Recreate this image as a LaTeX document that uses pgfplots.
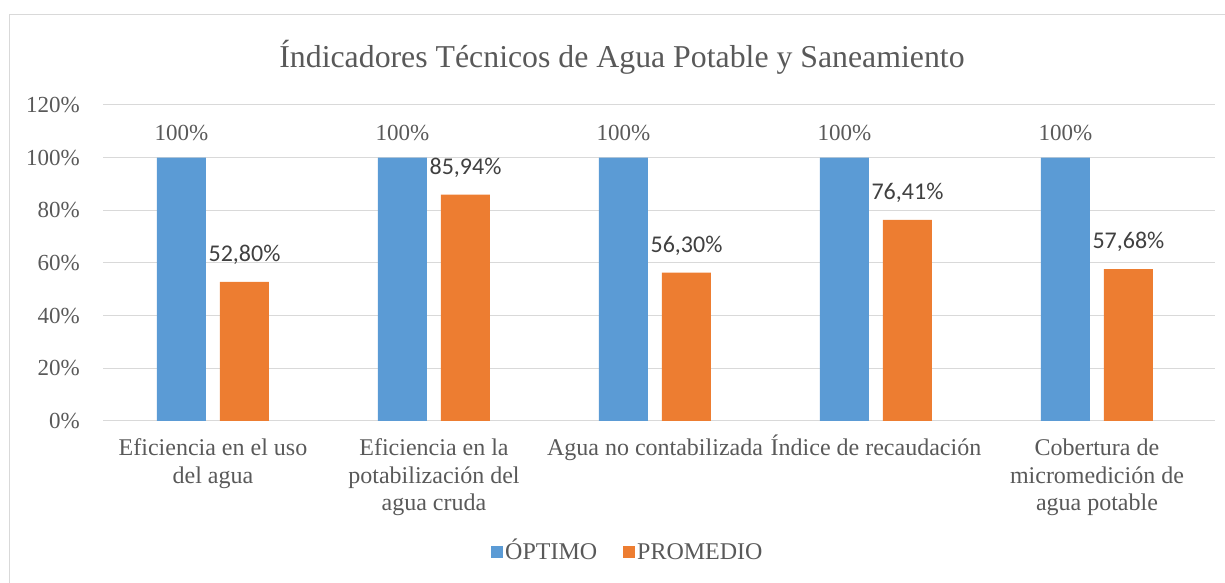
\documentclass[border=0pt]{standalone}
\usepackage{pgfplots}
\pgfplotsset{compat=1.18}
\usepackage{fontspec}
\setmainfont{Liberation Serif}
\newfontfamily\calibri{Carlito}

\definecolor{optimo}{HTML}{5B9BD5}
\definecolor{promedio}{HTML}{ED7D31}
\definecolor{txt}{HTML}{595959}
\definecolor{lbl}{HTML}{404040}
\definecolor{gridc}{HTML}{D9D9D9}

\begin{document}
\begin{tikzpicture}[x=1pt,y=1pt]
\path[use as bounding box] (0,0) rectangle (1225,583);
% chart frame (top and left edges visible)
\draw[gridc, line width=1pt] (9,-2) -- (9,568) -- (1227,568);
% title
\node[txt, font=\fontsize{31.8}{36}\selectfont] at (622,526) {Índicadores Técnicos de Agua Potable y Saneamiento};

\begin{axis}[
    at={(103pt,162pt)}, anchor=south west,
    width=1112pt, height=316pt, scale only axis,
    xmin=-0.4977, xmax=4.534, ymin=0, ymax=120,
    axis line style={draw=none},
    tick style={draw=none},
    ymajorgrids, major grid style={gridc, line width=1pt},
    ytick={0,20,40,60,80,100,120},
    yticklabels={0\%,20\%,40\%,60\%,80\%,100\%,120\%},
    yticklabel style={txt, font=\fontsize{23}{27.5}\selectfont, inner sep=0pt, xshift=-23pt},
    xtick={0,1,2,3,4},
    xticklabels={{\vphantom{Í}Eficiencia en el uso\\del agua},
                 {\vphantom{Í}Eficiencia en la\\potabilización del\\agua cruda},
                 {\vphantom{Í}Agua no contabilizada},
                 {Índice de recaudación},
                 {\vphantom{Í}Cobertura de\\micromedición de\\agua potable}},
    xticklabel style={txt, align=center, font=\fontsize{24}{27.5}\selectfont, anchor=north, inner sep=0pt, yshift=-14pt},
    legend columns=2,
    legend style={at={(axis description cs:0.472,-0.4146)}, anchor=center, draw=none, fill=none,
        font=\fontsize{24}{27.5}\selectfont, text=txt,
        nodes={text height=20pt, text depth=5pt},
        /tikz/every even column/.append style={column sep=24pt},
        inner sep=0pt},
    legend image code/.code={\fill[#1] (0pt,-6pt) rectangle (12pt,6pt);},
    clip=false,
]
\addplot[ybar, bar width=49pt, bar shift=-31.5pt, fill=optimo, draw=none,
    nodes near coords, point meta=explicit symbolic,
    every node near coord/.append style={txt, font=\fontsize{23}{27.5}\selectfont, anchor=center, xshift=-31.5pt, yshift=25pt}]
    coordinates {(0,100) [100\%] (1,100) [100\%] (2,100) [100\%] (3,100) [100\%] (4,100) [100\%]};
\addlegendentry{ÓPTIMO}
\addplot[ybar, bar width=49pt, bar shift=31.5pt, fill=promedio, draw=none,
    nodes near coords, point meta=explicit symbolic,
    every node near coord/.append style={lbl, font=\calibri\fontsize{24}{28}\selectfont, anchor=center, xshift=31.5pt, yshift=27pt}]
    coordinates {(0,52.80) [{52,80\%}] (1,85.94) [{85,94\%}] (2,56.30) [{56,30\%}] (3,76.41) [{76,41\%}] (4,57.68) [{57,68\%}]};
\addlegendentry{PROMEDIO}
\end{axis}
\end{tikzpicture}
\end{document}
